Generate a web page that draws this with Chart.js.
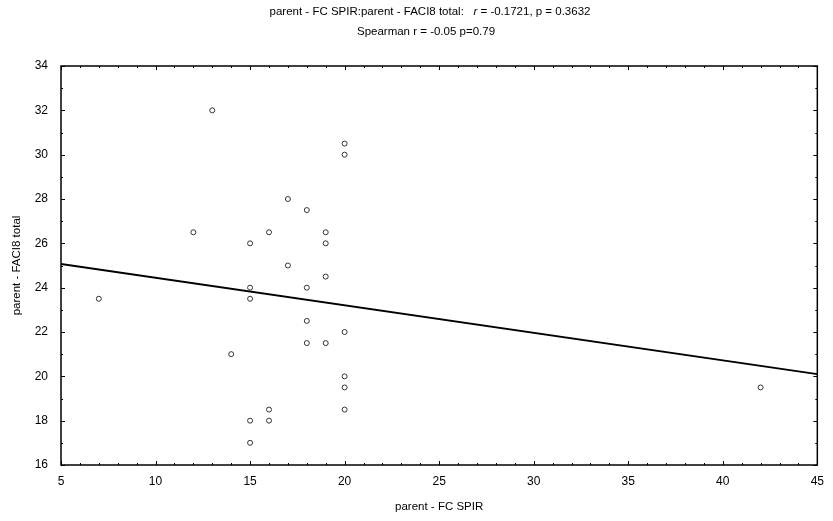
<!DOCTYPE html>
<html>
<head>
<meta charset="utf-8">
<script src="https://cdn.jsdelivr.net/npm/chart.js@4.4.1/dist/chart.umd.min.js"></script>
<style>
  body { margin: 0; background: #fff; }
  #wrap { width: 833px; height: 521px; }
</style>
</head>
<body>
<div id="wrap"><canvas id="myChart" width="833" height="521"></canvas></div>
<script>
// values
const spirX = [7, 12, 13, 14, 15, 15, 15, 15, 15, 16, 16, 16, 17, 17, 18, 18, 18, 18, 19, 19, 19, 19, 20, 20, 20, 20, 20, 20, 42];
const faciY = [23.5, 26.5, 32, 21, 26, 24, 23.5, 18, 17, 26.5, 18.5, 18, 28, 25, 27.5, 24, 22.5, 21.5, 26.5, 26, 24.5, 21.5, 30.5, 30, 22, 20, 19.5, 18.5, 19.5];

// regression line end points
const fitX = [5, 45];
const fitY = [25.07, 20.1];

const titleMain = 'parent - FC SPIR:parent - FACI8 total:   ';
const titleStat = ' = -0.1721, p = 0.3632';
const titleSub = 'Spearman r = -0.05 p=0.79';
const xLabel = 'parent - FC SPIR';
const yLabel = 'parent - FACI8 total';

const FONT = '"Liberation Sans", Arial, sans-serif';

// frame, inward tick marks and the two title lines
const framePlugin = {
  id: 'frame',
  afterDraw(chart) {
    const ctx = chart.ctx;
    const a = chart.chartArea;
    const xs = chart.scales.x, ys = chart.scales.y;
    ctx.save();
    ctx.strokeStyle = '#000';
    ctx.lineWidth = 1.5;
    ctx.strokeRect(a.left, a.top, a.right - a.left, a.bottom - a.top);

    ctx.lineWidth = 1;
    ctx.beginPath();
    for (let v = xs.min; v <= xs.max; v++) {
      const len = v % 5 === 0 ? 4 : 2;
      const px = Math.round(xs.getPixelForValue(v)) + 0.5;
      ctx.moveTo(px, a.bottom); ctx.lineTo(px, a.bottom - len);
      ctx.moveTo(px, a.top); ctx.lineTo(px, a.top + len);
    }
    for (let v = ys.min; v <= ys.max; v++) {
      const len = v % 2 === 0 ? 4 : 2;
      const py = Math.round(ys.getPixelForValue(v)) + 0.5;
      ctx.moveTo(a.left, py); ctx.lineTo(a.left + len, py);
      ctx.moveTo(a.right, py); ctx.lineTo(a.right - len, py);
    }
    ctx.stroke();

    ctx.fillStyle = '#000';
    ctx.textBaseline = 'middle';
    ctx.textAlign = 'left';
    const normal = '11.5px ' + FONT;
    const italic = 'italic 11.5px ' + FONT;
    ctx.font = normal;
    const w1 = ctx.measureText(titleMain).width;
    const w3 = ctx.measureText(titleStat).width;
    ctx.font = italic;
    const w2 = ctx.measureText('r').width;
    let x = 430 - (w1 + w2 + w3) / 2;
    ctx.font = normal; ctx.fillText(titleMain, x, 12); x += w1;
    ctx.font = italic; ctx.fillText('r', x, 12); x += w2;
    ctx.font = normal; ctx.fillText(titleStat, x, 12);
    ctx.textAlign = 'center';
    ctx.fillText(titleSub, 426, 32);
    ctx.restore();
  }
};

const ctx = document.getElementById('myChart').getContext('2d');
const myChart = new Chart(ctx, {
  type: 'scatter',
  data: {
    datasets: [{
      label: 'points',
      data: spirX.map((x, i) => ({ x: x, y: faciY[i] })),
      pointRadius: 2.5,
      pointBorderWidth: 1,
      pointBorderColor: '#333',
      pointBackgroundColor: 'rgba(0,0,0,0)',
      showLine: false
    }, {
      label: 'fit',
      type: 'line',
      data: fitX.map((x, i) => ({ x: x, y: fitY[i] })),
      borderColor: '#000',
      borderWidth: 2,
      pointRadius: 0,
      fill: false
    }]
  },
  options: {
    responsive: false,
    animation: false,
    layout: { padding: { left: 0, right: 11, top: 66, bottom: 0 } },
    plugins: { legend: { display: false }, tooltip: { enabled: false } },
    scales: {
      x: {
        type: 'linear', min: 5, max: 45,
        afterFit(s) { s.height = 56; },
        grid: { display: false, drawTicks: false },
        border: { display: false },
        ticks: { stepSize: 5, padding: 9, color: '#000', font: { family: FONT, size: 12 }, maxRotation: 0 },
        title: { display: true, text: xLabel, color: '#000', font: { family: FONT, size: 11.5 }, padding: { top: 0, bottom: 7 } }
      },
      y: {
        type: 'linear', min: 16, max: 34,
        afterFit(s) { s.width = 61; },
        grid: { display: false, drawTicks: false },
        border: { display: false },
        ticks: { stepSize: 2, padding: 13, color: '#000', font: { family: FONT, size: 12 } },
        title: { display: true, text: yLabel, color: '#000', font: { family: FONT, size: 11.5 }, padding: { top: 10, bottom: 0 } }
      }
    }
  },
  plugins: [framePlugin]
});
</script>
</body>
</html>
